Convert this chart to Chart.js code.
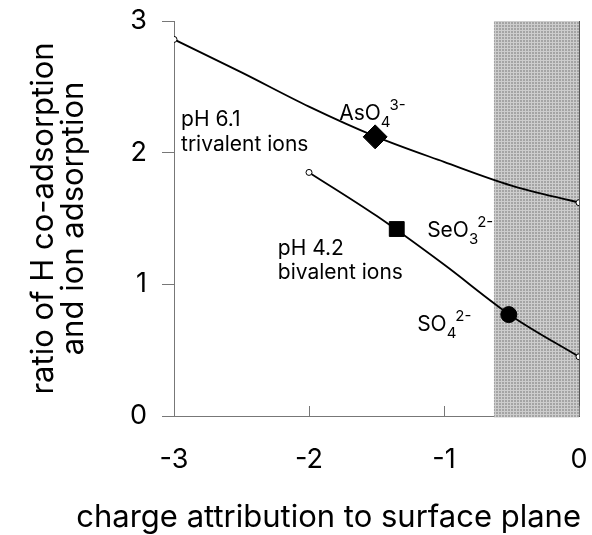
<!DOCTYPE html>
<html>
<head>
<meta charset="utf-8">
<script src="https://cdn.jsdelivr.net/npm/chart.js@4.4.0/dist/chart.umd.min.js"></script>
<style>
  html, body { margin: 0; padding: 0; background: #fff; }
  #wrap { width: 592px; height: 535px; }
</style>
</head>
<body>
<div id="wrap"><canvas id="chart" width="592" height="535"></canvas></div>
<script>
// charge attribution to surface plane
const xTicks = [-3, -2, -1, 0];
const yTicks = [0, 1, 2, 3];

// pH 6.1, trivalent ions
const triX = [-3, -2.5, -2, -1.5, -1, -0.5, 0];
const triY = [2.86, 2.61, 2.35, 2.12, 1.93, 1.75, 1.62];

// pH 4.2, bivalent ions
const biX = [-2, -1.5, -1, -0.5, 0];
const biY = [1.85, 1.52, 1.15, 0.76, 0.45];

// measured ions: AsO4(3-), SeO3(2-), SO4(2-)
const ionX = [-1.51, -1.35, -0.52];
const ionY = [2.12, 1.42, 0.77];

// shaded band on the right
const shadeFrom = -0.63;

Chart.defaults.font.family = 'Inter';
Chart.defaults.color = '#000';

function toPoints(xs, ys) {
    return xs.map((x, i) => ({ x: x, y: ys[i] }));
}

function endsOnly(xs, r) {
    return xs.map((_, i) => (i === 0 || i === xs.length - 1) ? r : 0);
}

function makePattern(ctx) {
    const tile = document.createElement('canvas');
    tile.width = 3;
    tile.height = 3;
    const t = tile.getContext('2d');
    t.fillStyle = '#a4a4a4';
    t.fillRect(0, 0, 3, 3);
    t.fillStyle = '#cdcdcd';
    t.fillRect(0, 0, 3, 1);
    t.fillRect(0, 0, 1, 3);
    return ctx.createPattern(tile, 'repeat');
}

// grey band + inward x ticks
const shadePlugin = {
    id: 'shade',
    beforeDatasetsDraw(chart) {
        const { ctx, chartArea, scales } = chart;
        const x0 = scales.x.getPixelForValue(shadeFrom);
        const x1 = scales.x.getPixelForValue(0);
        ctx.save();
        ctx.fillStyle = makePattern(ctx);
        ctx.fillRect(x0, chartArea.top, x1 - x0, chartArea.bottom - chartArea.top + 1.5);
        ctx.strokeStyle = '#555';
        ctx.lineWidth = 1;
        ctx.beginPath();
        ctx.moveTo(Math.round(x1) + 0.5, chartArea.top);
        ctx.lineTo(Math.round(x1) + 0.5, chartArea.bottom + 1);
        ctx.stroke();

        ctx.strokeStyle = '#777';
        xTicks.forEach(v => {
            const px = Math.round(scales.x.getPixelForValue(v)) + 0.5;
            ctx.beginPath();
            ctx.moveTo(px, chartArea.bottom);
            ctx.lineTo(px, chartArea.bottom - 10);
            ctx.stroke();
        });
        ctx.restore();
    }
};

// text labels with sub/superscripts
function ionLabel(ctx, x, y, base, sub, sup) {
    ctx.font = '21px Inter';
    ctx.fillText(base, x, y);
    const w = ctx.measureText(base).width;
    ctx.font = '15px Inter';
    ctx.fillText(sub, x + w, y + 7);
    const sw = ctx.measureText(sub).width;
    ctx.fillText(sup, x + w + sw - 1, y - 10);
}

const notesPlugin = {
    id: 'notes',
    afterDatasetsDraw(chart) {
        const { ctx, scales: { x, y } } = chart;
        const px = v => x.getPixelForValue(v);
        const py = v => y.getPixelForValue(v);
        ctx.save();
        ctx.fillStyle = '#000';
        ctx.textBaseline = 'alphabetic';
        ctx.textAlign = 'left';
        ctx.font = '21px Inter';
        ctx.fillText('pH 6.1', px(-2.948), py(2.20));
        ctx.fillText('trivalent ions', px(-2.948), py(2.015));
        ctx.fillText('pH 4.2', px(-2.231), py(1.22));
        ctx.fillText('bivalent ions', px(-2.231), py(1.04));
        ionLabel(ctx, px(-1.776), py(2.25), 'AsO', '4', '3-');
        ionLabel(ctx, px(-1.125), py(1.356), 'SeO', '3', '2-');
        ionLabel(ctx, px(-1.199), py(0.644), 'SO', '4', '2-');
        ctx.restore();
    }
};

const curveStyle = {
    borderColor: '#000',
    borderWidth: 1.8,
    cubicInterpolationMode: 'monotone',
    pointBackgroundColor: '#fff',
    pointBorderColor: '#000',
    pointBorderWidth: 1,
    fill: false
};

new Chart(document.getElementById('chart'), {
    type: 'line',
    data: {
        datasets: [
            Object.assign({ data: toPoints(triX, triY), pointRadius: endsOnly(triX, 3) }, curveStyle),
            Object.assign({ data: toPoints(biX, biY), pointRadius: endsOnly(biX, 3) }, curveStyle),
            {
                data: [{ x: ionX[0], y: ionY[0] }], showLine: false,
                pointStyle: 'rectRot', pointRadius: 12,
                pointBackgroundColor: '#000', pointBorderColor: '#000'
            },
            {
                data: [{ x: ionX[1], y: ionY[1] }], showLine: false,
                pointStyle: 'rect', pointRadius: 10.5,
                pointBackgroundColor: '#000', pointBorderColor: '#000'
            },
            {
                data: [{ x: ionX[2], y: ionY[2] }], showLine: false,
                pointStyle: 'circle', pointRadius: 8,
                pointBackgroundColor: '#000', pointBorderColor: '#000'
            }
        ]
    },
    options: {
        responsive: false,
        animation: false,
        layout: { padding: { top: 21, right: 11, left: 0, bottom: 0 } },
        plugins: {
            legend: { display: false },
            tooltip: { enabled: false },
            title: {
                display: true,
                position: 'bottom',
                align: 'end',
                text: 'charge attribution to surface plane',
                font: { size: 31, weight: 'normal', lineHeight: 1 },
                padding: { top: 0, bottom: 2 },
                color: '#000'
            }
        },
        scales: {
            x: {
                type: 'linear',
                min: -3,
                max: 0,
                afterBuildTicks: s => { s.ticks = xTicks.map(v => ({ value: v })); },
                afterFit: s => { s.height = 86; s.paddingLeft = 0; s.paddingRight = 0; },
                // invisible tick marks only push the labels down; real ticks point inward
                grid: { display: true, drawOnChartArea: false, drawTicks: true, tickLength: 26, color: 'rgba(0,0,0,0)' },
                border: { display: true, color: '#777', width: 1 },
                ticks: { font: { size: 27 }, padding: 2, maxRotation: 0 }
            },
            y: {
                type: 'linear',
                min: 0,
                max: 3,
                afterBuildTicks: s => { s.ticks = yTicks.map(v => ({ value: v })); },
                afterFit: s => {
                    s.width = 174;
                    s.paddingTop = 0; s.paddingBottom = 0;
                    s.paddingLeft = 0; s.paddingRight = 0;
                },
                grid: { display: true, drawOnChartArea: false, drawTicks: true, tickLength: 12, color: '#777' },
                border: { display: true, color: '#777', width: 1 },
                ticks: { font: { size: 27 }, padding: 15 },
                title: {
                    display: true,
                    text: ['ratio of H co-adsorption', 'and ion adsorption'],
                    font: { size: 31, lineHeight: 0.97 },
                    padding: { top: 29, bottom: 0 }
                }
            }
        }
    },
    plugins: [shadePlugin, notesPlugin]
});
</script>
</body>
</html>
